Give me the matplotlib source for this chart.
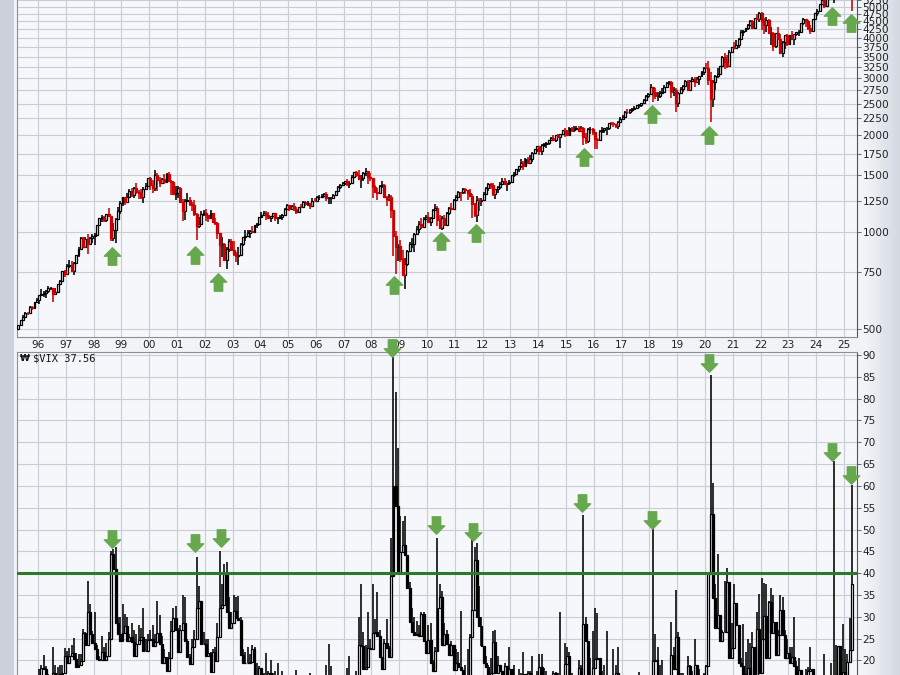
import numpy as np
import pandas as pd
import matplotlib
matplotlib.use("Agg")
import matplotlib.pyplot as plt
from matplotlib.path import Path
from matplotlib.patches import Rectangle

# monthly $SPX bars, Apr 1995 .. Apr 2025 (open = previous close)
spx_open0 = 500.7
spx_close = [
    514.7, 533.4, 544.8, 562.1, 561.9, 584.4, 581.5, 605.4, 615.9,
    636.0, 640.4, 645.5, 654.2, 669.1, 670.6, 639.9, 652.0, 687.3, 705.3, 757.0, 740.7,
    786.2, 790.8, 757.1, 801.3, 848.3, 885.1, 954.3, 899.5, 947.3, 914.6, 955.4, 970.4,
    980.3, 1049.3, 1101.8, 1111.8, 1090.8, 1133.8, 1120.7, 957.3, 1017.0, 1098.7, 1163.6, 1229.2,
    1279.6, 1238.3, 1286.4, 1335.2, 1301.8, 1372.7, 1328.7, 1320.4, 1282.7, 1362.9, 1388.9, 1469.3,
    1394.5, 1366.4, 1498.6, 1452.4, 1420.6, 1454.6, 1430.8, 1517.7, 1436.5, 1429.4, 1315.2, 1320.3,
    1366.0, 1239.9, 1160.3, 1249.5, 1255.8, 1224.4, 1211.2, 1133.6, 1040.9, 1059.8, 1139.5, 1148.1,
    1130.2, 1106.7, 1147.4, 1076.9, 1067.1, 989.8, 911.6, 916.1, 815.3, 885.8, 936.3, 879.8,
    855.7, 841.2, 848.2, 916.9, 963.6, 974.5, 990.3, 1008.0, 996.0, 1050.7, 1058.2, 1111.9,
    1131.1, 1144.9, 1126.2, 1107.3, 1120.7, 1140.8, 1101.7, 1104.2, 1114.6, 1130.2, 1173.8, 1211.9,
    1181.3, 1203.6, 1180.6, 1156.9, 1191.5, 1191.3, 1234.2, 1220.3, 1228.8, 1207.0, 1249.5, 1248.3,
    1280.1, 1280.7, 1294.9, 1310.6, 1270.1, 1270.2, 1276.7, 1303.8, 1335.9, 1377.9, 1400.6, 1418.3,
    1438.2, 1406.8, 1420.9, 1482.4, 1530.6, 1503.4, 1455.3, 1474.0, 1526.8, 1549.4, 1481.1, 1468.4,
    1378.6, 1330.6, 1322.7, 1385.6, 1400.4, 1280.0, 1267.4, 1282.8, 1166.4, 968.8, 896.2, 903.3,
    825.9, 735.1, 797.9, 872.8, 919.1, 919.3, 987.5, 1020.6, 1057.1, 1036.2, 1095.6, 1115.1,
    1073.9, 1104.5, 1169.4, 1186.7, 1089.4, 1030.7, 1101.6, 1049.3, 1141.2, 1183.3, 1180.6, 1257.6,
    1286.1, 1327.2, 1325.8, 1363.6, 1345.2, 1320.6, 1292.3, 1219.0, 1131.4, 1253.3, 1247.0, 1257.6,
    1312.4, 1365.7, 1408.5, 1397.9, 1310.3, 1362.2, 1379.3, 1406.6, 1440.7, 1412.2, 1416.2, 1426.2,
    1498.1, 1514.7, 1569.2, 1597.6, 1630.7, 1606.3, 1685.7, 1633.0, 1681.6, 1756.5, 1805.8, 1848.4,
    1782.6, 1859.5, 1872.3, 1884.0, 1923.6, 1960.2, 1930.7, 2003.4, 1972.3, 2018.1, 2067.6, 2058.9,
    1995.0, 2104.5, 2067.9, 2085.5, 2107.4, 2063.1, 2103.8, 1972.2, 1920.0, 2079.4, 2080.4, 2043.9,
    1940.2, 1932.2, 2059.7, 2065.3, 2097.0, 2098.9, 2173.6, 2171.0, 2168.3, 2126.2, 2199.0, 2238.8,
    2278.9, 2363.6, 2362.7, 2384.2, 2411.8, 2423.4, 2470.3, 2471.7, 2519.4, 2575.3, 2647.6, 2673.6,
    2823.8, 2713.8, 2640.9, 2648.1, 2705.3, 2718.4, 2816.3, 2901.5, 2914.0, 2711.7, 2760.2, 2506.9,
    2704.1, 2784.5, 2834.4, 2945.8, 2752.1, 2941.8, 2980.4, 2926.5, 2976.7, 3037.6, 3141.0, 3230.8,
    3225.5, 2954.2, 2584.6, 2912.4, 3044.3, 3100.3, 3271.1, 3500.3, 3363.0, 3270.0, 3621.6, 3756.1,
    3714.2, 3811.2, 3972.9, 4181.2, 4204.1, 4297.5, 4395.3, 4522.7, 4307.5, 4605.4, 4567.0, 4766.2,
    4515.6, 4373.9, 4530.4, 4131.9, 4132.2, 3785.4, 4130.3, 3955.0, 3585.6, 3872.0, 4080.1, 3839.5,
    4076.6, 3970.2, 4109.3, 4169.5, 4179.8, 4450.4, 4589.0, 4507.7, 4288.1, 4193.8, 4567.8, 4769.8,
    4845.7, 5096.3, 5254.4, 5035.7, 5277.5, 5460.5, 5522.3, 5648.4, 5762.5, 5705.5, 6032.4, 5881.6,
    6040.5, 5954.5, 5611.9, 5363.4,
]
spx_high = [
    515, 534, 551, 565, 565, 587, 587, 608, 622,
    637, 664, 656, 659, 679, 673, 672, 671, 688, 708, 758, 762,
    794, 818, 815, 805, 850, 899, 962, 961, 961, 986, 964, 986,
    992, 1051, 1105, 1131, 1123, 1139, 1190, 1121, 1066, 1103, 1193, 1245,
    1280, 1284, 1316, 1362, 1368, 1374, 1421, 1350, 1361, 1375, 1420, 1473,
    1478, 1445, 1553, 1528, 1481, 1474, 1517, 1519, 1531, 1454, 1439, 1390,
    1384, 1376, 1264, 1269, 1316, 1287, 1239, 1255, 1145, 1110, 1163, 1173,
    1176, 1131, 1173, 1147, 1107, 1070, 994, 963, 925, 901, 954, 954,
    935, 865, 896, 924, 966, 1015, 1016, 1012, 1040, 1054, 1064, 1112,
    1155, 1159, 1164, 1150, 1123, 1146, 1141, 1109, 1131, 1138, 1188, 1217,
    1212, 1212, 1229, 1192, 1199, 1220, 1245, 1245, 1243, 1233, 1271, 1276,
    1295, 1298, 1311, 1318, 1326, 1284, 1281, 1307, 1340, 1390, 1408, 1431,
    1441, 1461, 1438, 1499, 1533, 1541, 1556, 1503, 1539, 1576, 1520, 1524,
    1471, 1396, 1370, 1397, 1440, 1404, 1292, 1314, 1304, 1167, 1008, 919,
    944, 876, 832, 878, 930, 957, 993, 1040, 1080, 1101, 1113, 1130,
    1150, 1113, 1181, 1220, 1206, 1131, 1120, 1129, 1151, 1196, 1228, 1263,
    1302, 1344, 1333, 1364, 1371, 1346, 1357, 1307, 1230, 1293, 1277, 1270,
    1334, 1378, 1420, 1422, 1415, 1363, 1392, 1427, 1475, 1470, 1419, 1448,
    1504, 1531, 1570, 1598, 1687, 1654, 1698, 1709, 1730, 1776, 1814, 1849,
    1851, 1868, 1884, 1897, 1925, 1968, 1992, 2005, 2019, 2019, 2076, 2094,
    2064, 2120, 2115, 2126, 2135, 2130, 2133, 2113, 2021, 2094, 2117, 2104,
    2039, 1963, 2073, 2111, 2103, 2121, 2178, 2194, 2188, 2169, 2214, 2278,
    2301, 2371, 2401, 2399, 2419, 2454, 2484, 2491, 2520, 2582, 2658, 2695,
    2873, 2790, 2801, 2718, 2742, 2791, 2848, 2917, 2941, 2940, 2816, 2801,
    2708, 2814, 2860, 2950, 2954, 2964, 3028, 3014, 3022, 3050, 3154, 3248,
    3338, 3394, 3137, 2955, 3068, 3233, 3280, 3515, 3588, 3550, 3668, 3760,
    3870, 3951, 3995, 4219, 4238, 4302, 4430, 4538, 4546, 4608, 4744, 4808,
    4819, 4596, 4637, 4593, 4308, 4178, 4141, 4325, 4120, 3906, 4080, 4101,
    4095, 4195, 4111, 4170, 4231, 4458, 4607, 4584, 4541, 4394, 4588, 4793,
    4932, 5111, 5265, 5263, 5342, 5524, 5670, 5651, 5768, 5878, 6044, 6100,
    6129, 6147, 5987, 5695,
]
spx_low = [
    500, 510, 530, 541, 553, 561, 573, 581, 600,
    598, 633, 627, 625, 645, 658, 605, 639, 650, 684, 703, 723,
    737, 773, 755, 733, 798, 833, 885, 897, 896, 855, 913, 925,
    912, 979, 1045, 1077, 1074, 1075, 1115, 940, 939, 923, 1095, 1133,
    1205, 1211, 1229, 1282, 1282, 1278, 1312, 1268, 1268, 1233, 1348, 1387,
    1350, 1325, 1339, 1339, 1374, 1421, 1412, 1427, 1436, 1305, 1315, 1254,
    1275, 1229, 1081, 1092, 1240, 1203, 1165, 1124, 945, 1031, 1054, 1124,
    1082, 1075, 1107, 1063, 1049, 953, 776, 834, 815, 769, 869, 870,
    840, 807, 789, 847, 902, 936, 962, 960, 990, 994, 1032, 1051,
    1106, 1124, 1088, 1103, 1076, 1114, 1084, 1060, 1102, 1091, 1128, 1172,
    1164, 1181, 1163, 1137, 1146, 1188, 1191, 1201, 1206, 1174, 1201, 1246,
    1245, 1254, 1277, 1285, 1246, 1219, 1225, 1264, 1302, 1327, 1360, 1385,
    1403, 1390, 1364, 1416, 1477, 1484, 1452, 1371, 1439, 1490, 1407, 1435,
    1271, 1317, 1257, 1324, 1373, 1272, 1200, 1248, 1107, 840, 741, 815,
    805, 735, 667, 784, 879, 889, 869, 979, 991, 1020, 1030, 1086,
    1071, 1045, 1105, 1178, 1040, 1029, 1011, 1040, 1049, 1132, 1174, 1173,
    1258, 1295, 1250, 1312, 1311, 1259, 1283, 1102, 1114, 1075, 1159, 1202,
    1259, 1306, 1341, 1358, 1292, 1267, 1325, 1355, 1397, 1403, 1343, 1398,
    1426, 1485, 1501, 1537, 1581, 1560, 1604, 1628, 1633, 1646, 1747, 1768,
    1737, 1738, 1834, 1815, 1860, 1915, 1931, 1905, 1965, 1821, 2001, 1973,
    1988, 1981, 2040, 2049, 2067, 2057, 2045, 1867, 1872, 1894, 2019, 1993,
    1812, 1810, 1937, 2034, 2026, 1992, 2075, 2148, 2120, 2097, 2084, 2188,
    2245, 2272, 2322, 2329, 2353, 2406, 2408, 2418, 2447, 2520, 2557, 2605,
    2683, 2533, 2586, 2553, 2594, 2699, 2699, 2803, 2864, 2604, 2632, 2347,
    2444, 2682, 2723, 2848, 2750, 2729, 2959, 2822, 2892, 2856, 3051, 3070,
    3215, 2855, 2192, 2447, 2766, 2999, 3101, 3284, 3209, 3234, 3280, 3633,
    3695, 3724, 3723, 3955, 4056, 4165, 4234, 4367, 4305, 4279, 4560, 4495,
    4223, 4115, 4157, 4124, 3811, 3637, 3723, 3954, 3585, 3492, 3699, 3765,
    3794, 3943, 3809, 4049, 4048, 4167, 4385, 4336, 4238, 4104, 4167, 4546,
    4683, 4853, 5057, 4954, 5012, 5235, 5391, 5119, 5403, 5675, 5696, 5832,
    5773, 5837, 5505, 4835,
]

# monthly $VIX bars, same months (open = previous close)
vix_open0 = 12.4
vix_close = [
    12.8, 12.6, 11.5, 13.4, 13.3, 13.0, 14.6, 13.2, 12.5,
    13.6, 18.2, 18.0, 16.0, 14.6, 13.6, 17.1, 16.7, 16.3, 16.8, 17.2, 20.9,
    19.5, 21.0, 21.7, 20.3, 18.5, 19.0, 19.9, 26.3, 23.5, 31.0, 26.0, 24.0,
    22.6, 20.3, 20.0, 21.9, 20.1, 20.9, 24.9, 44.3, 40.9, 28.6, 26.0, 24.4,
    26.2, 27.9, 24.5, 25.4, 24.2, 21.1, 23.8, 24.7, 25.4, 22.2, 22.2, 24.6,
    24.9, 23.4, 24.1, 26.2, 23.7, 19.5, 20.7, 17.6, 20.6, 26.7, 29.7, 26.9,
    22.0, 27.0, 28.6, 24.5, 20.8, 19.1, 23.0, 24.9, 31.9, 33.6, 23.8, 23.8,
    21.1, 21.6, 17.4, 21.9, 19.9, 25.4, 32.0, 32.6, 39.7, 31.1, 27.5, 28.6,
    31.2, 29.6, 29.2, 21.2, 19.5, 19.5, 19.5, 19.6, 22.7, 16.1, 16.3, 18.3,
    16.6, 14.6, 16.7, 17.2, 15.5, 14.3, 15.3, 15.3, 13.3, 16.3, 13.2, 13.3,
    12.8, 12.1, 14.0, 15.3, 13.3, 12.0, 11.6, 12.6, 11.9, 15.3, 12.1, 12.1,
    12.9, 12.3, 11.4, 11.6, 16.4, 13.1, 14.9, 12.3, 12.0, 11.1, 10.9, 11.6,
    10.4, 15.4, 14.6, 14.2, 13.1, 16.2, 23.5, 23.4, 18.0, 18.5, 22.9, 22.5,
    26.2, 26.5, 25.6, 20.8, 18.0, 23.9, 22.9, 20.7, 39.4, 59.9, 55.3, 40.0,
    44.8, 46.4, 44.1, 36.5, 28.9, 26.4, 25.9, 26.0, 25.6, 30.7, 24.5, 21.7,
    24.6, 19.5, 17.6, 22.1, 32.1, 34.5, 23.5, 26.1, 23.7, 21.2, 23.5, 17.8,
    19.5, 18.4, 17.7, 14.8, 15.5, 16.5, 25.3, 31.6, 43.0, 30.0, 27.8, 23.4,
    19.4, 18.4, 15.5, 17.2, 24.1, 17.1, 18.9, 17.5, 15.7, 18.6, 15.9, 18.0,
    14.3, 15.5, 12.7, 13.5, 16.3, 16.9, 13.5, 17.0, 16.6, 13.8, 13.7, 13.7,
    18.4, 14.0, 13.9, 13.4, 11.4, 11.6, 17.0, 12.0, 16.3, 14.0, 13.3, 19.2,
    21.0, 13.3, 15.3, 14.6, 13.8, 18.2, 12.1, 28.4, 24.5, 15.1, 16.1, 18.2,
    20.2, 20.6, 14.0, 15.7, 14.2, 15.6, 11.9, 13.4, 13.3, 17.1, 13.3, 14.0,
    12.0, 12.9, 12.4, 10.8, 10.4, 11.2, 10.3, 10.6, 9.5, 10.2, 11.3, 11.0,
    13.5, 19.9, 20.0, 15.9, 15.4, 16.1, 12.8, 12.9, 12.1, 21.2, 18.1, 25.4,
    16.6, 14.8, 13.7, 13.1, 18.7, 15.1, 16.1, 19.0, 16.2, 13.2, 12.6, 13.8,
    18.8, 40.1, 53.5, 34.2, 27.5, 30.4, 24.5, 26.4, 26.4, 38.0, 20.6, 22.8,
    33.1, 28.0, 19.4, 18.6, 16.8, 15.8, 18.2, 16.5, 23.1, 16.3, 27.2, 17.2,
    24.8, 30.2, 20.6, 33.4, 26.2, 28.7, 21.3, 25.9, 31.6, 25.9, 20.6, 21.7,
    19.4, 20.7, 18.7, 15.8, 17.9, 13.6, 13.6, 13.6, 17.5, 18.1, 12.9, 12.5,
    14.4, 13.4, 13.0, 15.7, 12.9, 12.4, 16.4, 15.0, 16.7, 23.2, 13.5, 17.4,
    16.4, 19.6, 22.3, 37.56,
]
vix_high = [
    13.5, 13.8, 14.2, 14.0, 14.3, 14.0, 15.3, 14.5, 14.4,
    18.0, 19.0, 21.2, 18.6, 16.8, 16.0, 23.1, 19.0, 18.5, 18.9, 19.0, 22.8,
    22.2, 22.8, 23.6, 25.2, 21.6, 21.4, 21.5, 27.2, 26.4, 38.2, 33.0, 26.8,
    31.0, 23.5, 21.0, 25.5, 23.0, 24.0, 26.5, 45.0, 45.5, 46.0, 29.9, 30.0,
    33.0, 30.6, 30.0, 26.0, 28.5, 27.0, 26.0, 28.0, 27.5, 32.0, 25.0, 26.0,
    27.0, 28.0, 26.0, 33.5, 30.5, 25.5, 22.5, 20.0, 22.0, 29.0, 32.0, 32.5,
    27.5, 28.0, 35.0, 34.5, 25.0, 21.5, 25.0, 27.0, 43.7, 37.0, 32.0, 26.5,
    25.0, 25.0, 22.0, 22.5, 23.0, 28.5, 45.0, 37.5, 42.0, 42.5, 34.5, 31.0,
    35.0, 34.5, 34.7, 30.0, 22.5, 22.0, 23.0, 21.5, 23.5, 23.0, 19.5, 18.8,
    17.5, 17.0, 21.6, 17.5, 20.0, 17.0, 17.5, 19.3, 16.0, 17.5, 16.5, 14.3,
    14.6, 13.5, 15.0, 17.7, 15.8, 13.5, 12.5, 14.3, 14.0, 17.2, 15.0, 12.7,
    14.3, 14.0, 13.5, 12.8, 18.9, 23.8, 18.6, 15.2, 13.5, 12.5, 12.5, 12.5,
    12.5, 18.3, 21.0, 16.3, 15.2, 17.5, 30.0, 37.5, 26.5, 23.5, 31.1, 25.0,
    37.6, 29.5, 35.6, 27.0, 20.5, 25.0, 29.5, 23.3, 48.0, 89.5, 81.5, 68.6,
    53.0, 52.0, 53.2, 43.9, 38.0, 32.0, 30.0, 29.0, 28.0, 31.0, 31.0, 24.5,
    28.0, 28.5, 20.0, 23.0, 48.0, 37.5, 36.0, 28.5, 27.0, 23.5, 24.5, 22.0,
    22.5, 22.0, 31.3, 17.5, 19.0, 22.7, 26.0, 48.0, 46.0, 46.9, 37.0, 30.0,
    23.0, 21.0, 19.0, 20.5, 26.7, 27.0, 21.0, 19.0, 17.5, 19.5, 18.5, 23.0,
    15.0, 18.9, 15.0, 18.0, 17.0, 21.9, 16.8, 17.5, 17.5, 21.0, 14.8, 17.5,
    21.5, 21.5, 18.2, 17.5, 14.0, 12.6, 17.5, 17.3, 17.0, 31.1, 15.0, 24.0,
    23.0, 22.0, 17.0, 16.5, 15.5, 20.0, 19.0, 53.3, 30.0, 24.0, 20.5, 26.8,
    32.1, 30.9, 20.0, 17.5, 19.0, 26.7, 16.5, 14.0, 22.5, 19.0, 23.0, 16.0,
    14.0, 13.2, 15.0, 16.3, 15.5, 12.0, 11.5, 17.3, 12.8, 11.0, 14.5, 11.8,
    15.0, 50.3, 26.0, 23.0, 19.0, 20.0, 16.0, 15.0, 14.0, 28.8, 23.0, 36.2,
    26.5, 17.0, 17.0, 13.8, 21.0, 19.0, 17.5, 24.8, 19.0, 18.0, 14.0, 17.0,
    19.0, 40.2, 85.5, 60.6, 37.6, 44.4, 30.0, 27.0, 38.3, 41.2, 38.0, 28.5,
    37.5, 31.2, 25.5, 20.5, 28.4, 22.0, 25.0, 24.0, 26.5, 21.0, 31.0, 35.3,
    38.9, 37.8, 37.5, 33.5, 36.6, 35.0, 28.0, 27.0, 34.9, 34.5, 27.0, 25.0,
    23.0, 23.0, 29.9, 19.8, 20.5, 17.5, 15.0, 18.0, 18.5, 23.1, 15.0, 14.0,
    16.0, 16.0, 15.0, 21.4, 15.3, 13.5, 19.4, 65.7, 23.5, 23.1, 21.5, 28.3,
    22.5, 21.5, 29.6, 60.1,
]

# green arrow markers (year, value at arrow centre)
spx_arrow_x = [1998.66, 2001.65, 2002.47, 2008.81, 2010.50, 2011.76, 2015.64, 2018.09, 2020.14, 2024.56, 2025.24]
spx_arrow_y = [843, 848, 700, 685, 938, 994, 1708, 2322, 2000, 4676, 4443]
vix_arrow_x = [1998.66, 2001.65, 2002.58, 2008.73, 2010.32, 2011.65, 2015.57, 2018.09, 2020.14, 2024.56, 2025.24]
vix_arrow_y = [47.8, 46.9, 48.0, 91.7, 51.0, 49.4, 56.0, 52.1, 88.1, 67.7, 62.4]

year_ticks = list(range(1996, 2026))
spx_ticks = list(range(500, 5251, 250))
vix_ticks = list(range(20, 91, 5))

months = pd.period_range("1995-04", periods=len(spx_close), freq="M")
x = np.asarray(months.year + (months.month - 0.5) / 12, dtype=float)

BG = "#f5f7fb"
GRID = "#c9cdd5"
ARROW = "#67a84f"


def candles(ax, o, h, l, c, up_col, dn_col):
    o, h, l, c = map(np.asarray, (o, h, l, c))
    up = c >= o
    cols = np.where(up, up_col, dn_col)
    ax.vlines(x, l, h, colors=cols, lw=1.15, zorder=3)
    bot = np.minimum(o, c)
    top = np.maximum(o, c)
    ax.bar(x[up], top[up] - bot[up], bottom=bot[up], width=0.07,
           facecolor=BG, edgecolor=up_col, linewidth=0.9, zorder=4)
    ax.bar(x[~up], top[~up] - bot[~up], bottom=bot[~up], width=0.07,
           facecolor=dn_col, edgecolor=dn_col, linewidth=0.9, zorder=4)


def style(ax, ticks):
    ax.set_facecolor(BG)
    ax.set_xlim(1995.245, 2025.47)
    ax.set_xticks(year_ticks)
    ax.set_yticks(ticks)
    ax.set_yticklabels([str(t) for t in ticks])
    ax.yaxis.set_minor_locator(plt.NullLocator())
    ax.grid(True, color=GRID, lw=0.8, zorder=0)
    ax.yaxis.tick_right()
    ax.tick_params(axis="y", which="both", direction="out", length=3, width=0.6,
                   color="#555555", pad=1, labelsize=7.6, labelcolor="#222222")
    ax.tick_params(axis="x", length=0, pad=2, labelsize=7.6, labelcolor="#222222")
    for s in ax.spines.values():
        s.set_color("#8a8f98")
        s.set_linewidth(0.8)
    ax.spines["right"].set_color("#555555")


fig = plt.figure(figsize=(9, 6.75), dpi=100)
fig.patch.set_facecolor("#f1f3f7")
fig.patches.append(Rectangle((0, 0), 14 / 900, 1, transform=fig.transFigure,
                             facecolor="#cbd0da", edgecolor="none", zorder=0))
grad = fig.add_axes([0.96, 0, 0.04, 1], zorder=-1)
grad.imshow(np.linspace(0, 1, 50)[None, :], aspect="auto",
            cmap=matplotlib.colors.LinearSegmentedColormap.from_list("g", ["#f3f5f8", "#d3d8e1"]),
            extent=(0, 1, 0, 1))
grad.axis("off")

# top panel: S&P 500, log scale
ax1 = fig.add_axes([17 / 900, 338 / 675, 840 / 900, 347 / 675])
ax1.set_yscale("log")
ax1.set_ylim(472, 5631)
style(ax1, spx_ticks)
candles(ax1, [spx_open0] + spx_close[:-1], spx_high, spx_low, spx_close, "#000000", "#cc0000")
ax1.set_xticklabels([f"{y % 100:02d}" for y in year_ticks])

# bottom panel: VIX
ax2 = fig.add_axes([17 / 900, -15 / 675, 840 / 900, 338 / 675])
ax2.set_ylim(13.2, 90.7)
style(ax2, vix_ticks)
ax2.tick_params(axis="x", labelbottom=False)
vix_open = [vix_open0] + vix_close[:-1]
candles(ax2, vix_open, vix_high, np.minimum(vix_open, vix_close), vix_close, "#000000", "#000000")
ax2.axhline(40, color="#2b7a2b", lw=2.2, zorder=5)
ax2.text(0.0035, 0.982, "\u20a9", transform=ax2.transAxes, fontsize=6.5,
         fontweight="bold", va="center", ha="left", color="#111111")
ax2.text(0.019, 0.982, "$VIX 37.56", transform=ax2.transAxes, fontsize=7.5,
         family="DejaVu Sans Mono", va="center", ha="left", color="#111111")

# block arrows
up_arrow = Path([(0, 0.5), (0.47, 0.02), (0.24, 0.02), (0.24, -0.5), (-0.24, -0.5),
                 (-0.24, 0.02), (-0.47, 0.02), (0, 0.5)], closed=True)
down_arrow = Path([(vx, -vy) for vx, vy in up_arrow.vertices], closed=True)
ax1.plot(spx_arrow_x, spx_arrow_y, ls="none", marker=up_arrow, ms=12.5,
         color=ARROW, mec=ARROW, zorder=6, clip_on=False)
ax2.plot(vix_arrow_x, vix_arrow_y, ls="none", marker=down_arrow, ms=12.5,
         color=ARROW, mec=ARROW, zorder=6, clip_on=False)

fig.savefig("out.png", dpi=100, facecolor=fig.get_facecolor())
